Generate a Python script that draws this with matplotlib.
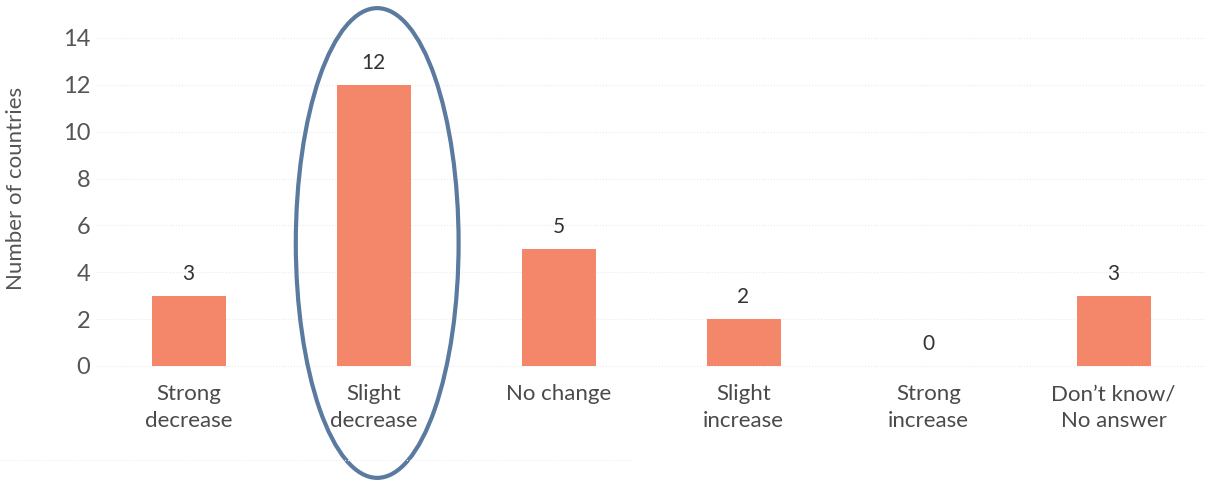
import matplotlib.pyplot as plt
from matplotlib.patches import Ellipse
from matplotlib.lines import Line2D

categories = ["Strong\ndecrease", "Slight\ndecrease", "No change",
              "Slight\nincrease", "Strong\nincrease", "Don\u2019t know/\nNo answer"]
counts = [3, 12, 5, 2, 0, 3]
yticks = [0, 2, 4, 6, 8, 10, 12, 14]
highlight = 1

plt.rcParams["font.family"] = ["Lato", "DejaVu Sans"]

fig = plt.figure(figsize=(12.17, 4.83), dpi=100)
ax = fig.add_axes([96 / 1217, 117 / 483, 1110 / 1217, 328 / 483])

x = list(range(len(counts)))
ax.bar(x, counts, width=0.4, color="#f4866a", zorder=2)
for xi, v in zip(x, counts):
    ax.text(xi, v + 0.5, str(v), ha="center", va="bottom",
            fontsize=15, color="#333333")

ax.set_xlim(-0.5, 5.5)
ax.set_ylim(0, 14)
ax.set_yticks(yticks)
ax.set_yticklabels([str(t) for t in yticks], fontsize=17, color="#555555")
ax.set_xticks(x)
ax.set_xticklabels(categories, fontsize=16, color="#4a4a4a", linespacing=1.45)
ax.tick_params(length=0, axis="x", pad=13)
ax.tick_params(length=0, axis="y", pad=4)
ax.grid(axis="y", linestyle=":", color="#eaeaea", linewidth=0.8, zorder=0)
for t in ax.yaxis.get_gridlines():
    t.set_clip_on(False)
for s in ax.spines.values():
    s.set_visible(False)
ax.set_ylabel("Number of countries", fontsize=16, color="#555555")
ax.yaxis.set_label_coords(-70 / 1110, 0.54)

ell = Ellipse((highlight + 0.02, 5.25), width=0.88, height=20.05,
              fill=False, edgecolor="#5b7aa0", linewidth=3, clip_on=False,
              zorder=3)
ax.add_patch(ell)

fig.add_artist(Line2D([0, 633 / 1217], [23 / 483, 23 / 483], linestyle=":",
                      color="#eeeeee", linewidth=0.8))

fig.savefig("out.png", dpi=100)
